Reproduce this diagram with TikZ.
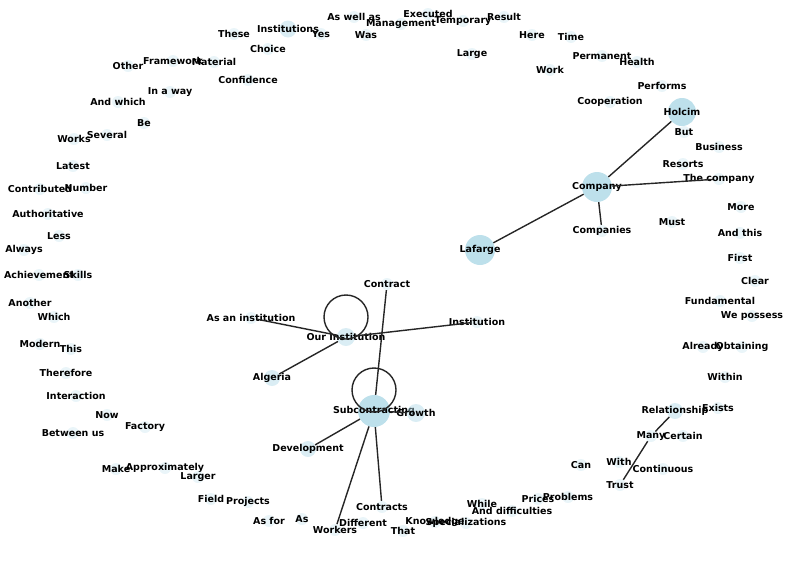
\documentclass[tikz,border=0pt]{standalone}
\usepackage{fontspec}
\setmainfont{DejaVu Sans}
\definecolor{nodeblue}{RGB}{173,216,230}
\begin{document}
\begin{tikzpicture}[x=1pt, y=-1pt,
    every label/.style={font=\bfseries\fontsize{9.5}{11}\selectfont, inner sep=0pt, text=black},
    link/.style={line width=1.4pt, black!85}]
\useasboundingbox (0,0) rectangle (787,560);
            {
                \tikzset{big/.style = {shape=circle, inner sep=0pt, minimum size=30pt, fill=nodeblue, fill opacity=0.8}}
                \tikzset{mid/.style = {shape=circle, inner sep=0pt, minimum size=17pt, fill=nodeblue, fill opacity=0.45}}
                \tikzset{word/.style = {shape=circle, inner sep=0pt, minimum size=12pt, fill=nodeblue, fill opacity=0.25}}

                % top arc
                \node[word, label=center:These] (these) at (234, 34) {};
                \node[mid, label=center:Institutions] (institutions) at (288, 29) {};
                \node[word, label=center:Yes] (yes) at (321, 34) {};
                \node[word, label=center:As well as] (aswellas) at (354, 17) {};
                \node[word, label=center:Was] (was) at (366, 35) {};
                \node[word, label=center:Management] (management) at (401, 24) {};
                \node[word, label=center:Executed] (executed) at (428, 14) {};
                \node[word, label=center:Temporary] (temporary) at (463, 21) {};
                \node[word, label=center:Result] (result) at (504, 17) {};
                \node[word, label=center:Here] (here) at (532, 35) {};
                \node[word, label=center:Time] (time) at (571, 37) {};
                \node[word, label=center:Large] (large) at (472, 54) {};
                \node[word, label=center:Permanent] (permanent) at (602, 56) {};
                \node[word, label=center:Health] (health) at (637, 62) {};
                \node[word, label=center:Work] (work) at (550, 70) {};
                \node[word, label=center:Performs] (performs) at (662, 86) {};
                \node[word, label=center:Cooperation] (cooperation) at (610, 102) {};
                \node[big, minimum size=28pt, label=center:Holcim] (holcim) at (682, 112) {};
                \node[word, label=center:But] (but) at (684, 132) {};
                \node[word, label=center:Choice] (choice) at (268, 49) {};
                \node[word, label=center:Other] (other) at (128, 66) {};
                \node[word, label=center:Framework] (framework) at (173, 61) {};
                \node[word, label=center:Material] (material) at (214, 62) {};
                \node[word, label=center:Confidence] (confidence) at (248, 80) {};
                \node[word, label=center:In a way] (inaway) at (170, 92) {};
                \node[word, label=center:And which] (andwhich) at (118, 102) {};
                \node[word, label=center:Be] (be) at (144, 123) {};

                % left arc
                \node[word, label=center:Works] (works) at (74, 139) {};
                \node[word, label=center:Several] (several) at (107, 135) {};
                \node[word, label=center:Latest] (latest) at (73, 166) {};
                \node[word, label=center:Contributed] (contributed) at (40, 189) {};
                \node[word, label=center:Number] (number) at (86, 188) {};
                \node[word, label=center:Authoritative] (authoritative) at (48, 214) {};
                \node[word, label=center:Less] (less) at (59, 236) {};
                \node[word, label=center:Always] (always) at (24, 250) {};
                \node[word, label=center:Achievement] (achievement) at (39, 275) {};
                \node[word, label=center:Skills] (skills) at (78, 275) {};
                \node[word, label=center:Another] (another) at (30, 303) {};
                \node[word, label=center:Which] (which) at (54, 317) {};
                \node[word, label=center:Modern] (modern) at (40, 344) {};
                \node[word, label=center:This] (this) at (71, 349) {};
                \node[word, label=center:Therefore] (therefore) at (66, 373) {};
                \node[word, label=center:Interaction] (interaction) at (76, 396) {};
                \node[word, label=center:Now] (now) at (107, 415) {};
                \node[word, label=center:Factory] (factory) at (145, 427) {};
                \node[word, label=center:Between us] (betweenus) at (73, 433) {};

                % bottom arc
                \node[word, label=center:Make] (make) at (116, 469) {};
                \node[word, label=center:Approximately] (approx) at (165, 468) {};
                \node[word, label=center:Larger] (larger) at (198, 477) {};
                \node[word, label=center:Field] (field) at (211, 499) {};
                \node[word, label=center:Projects] (projects) at (248, 502) {};
                \node[word, label=center:As for] (asfor) at (269, 521) {};
                \node[word, label=center:As] (as) at (302, 519) {};
                \node[word, label=center:Workers] (workers) at (335, 530) {};
                \node[word, label=center:Different] (different) at (363, 523) {};
                \node[word, label=center:Contracts] (contracts) at (382, 507) {};
                \node[word, label=center:That] (that) at (403, 531) {};
                \node[word, label=center:Knowledge] (knowledge) at (435, 522) {};
                \node[word, label=center:Specializations] (special) at (466, 523) {};
                \node[word, label=center:While] (while) at (482, 504) {};
                \node[word, label=center:And difficulties] (anddiff) at (512, 511) {};
                \node[word, label=center:Prices] (prices) at (538, 499) {};
                \node[word, label=center:Problems] (problems) at (568, 497) {};
                \node[word, label=center:Can] (can) at (581, 465) {};
                \node[word, label=center:With] (with) at (619, 462) {};
                \node[word, label=center:Continuous] (continuous) at (663, 469) {};
                \node[word, label=center:Trust] (trust) at (620, 485) {};
                \node[word, label=center:Many] (many) at (651, 436) {};
                \node[word, label=center:Certain] (certain) at (683, 436) {};
                \node[mid, minimum size=16pt, label=center:Relationship] (relationship) at (675, 411) {};
                \node[word, label=center:Exists] (exists) at (718, 408) {};

                % right arc
                \node[word, label=center:Within] (within) at (725, 377) {};
                \node[word, label=center:Already] (already) at (703, 347) {};
                \node[word, label=center:Obtaining] (obtaining) at (742, 347) {};
                \node[word, label=center:We possess] (wepossess) at (752, 316) {};
                \node[word, label=center:Fundamental] (fundamental) at (720, 301) {};
                \node[word, label=center:Clear] (clear) at (755, 281) {};
                \node[word, label=center:First] (first) at (740, 258) {};
                \node[word, label=center:And this] (andthis) at (740, 233) {};
                \node[word, label=center:More] (more) at (741, 207) {};
                \node[word, label=center:Must] (must) at (672, 222) {};
                \node[word, label=center:The company] (thecompany) at (719, 179) {};
                \node[word, label=center:Resorts] (resorts) at (683, 164) {};
                \node[word, label=center:Business] (business) at (719, 147) {};

                % centre
                \node[big, label=center:Company] (company) at (597, 187) {};
                \node[word, label=center:Companies] (companies) at (602, 231) {};
                \node[big, label=center:Lafarge] (lafarge) at (480, 250) {};
                \node[word, label=center:Contract] (contract) at (387, 284) {};
                \node[mid, minimum size=18pt, label=center:Our Institution] (ourinst) at (346, 337) {};
                \node[word, label=center:As an institution] (asaninst) at (251, 318) {};
                \node[word, label=center:Institution] (institution) at (477, 322) {};
                \node[mid, minimum size=16pt, label=center:Algeria] (algeria) at (272, 378) {};
                \node[big, minimum size=32pt, label=center:Subcontracting] (subcon) at (374, 411) {};
                \node[mid, minimum size=18pt, label=center:Growth] (growth) at (416, 413) {};
                \node[mid, minimum size=16pt, label=center:Development] (development) at (308, 449) {};
            }

            \draw[link] (company) edge (holcim);
            \draw[link] (company) edge (thecompany);
            \draw[link] (company) edge (companies);
            \draw[link] (company) edge (lafarge);
            \draw[link] (ourinst) edge (asaninst);
            \draw[link] (ourinst) edge (institution);
            \draw[link] (ourinst) edge (algeria);
            \draw[link] (contract) edge (subcon);
            \draw[link] (subcon) edge (growth);
            \draw[link] (subcon) edge (development);
            \draw[link] (subcon) edge (workers);
            \draw[link] (subcon) edge (contracts);
            \draw[link] (relationship) edge (many);
            \draw[link] (many) edge (trust);

            % self loops
            \draw[link] ([yshift=20pt]ourinst.center) circle (22pt);
            \draw[link] ([yshift=21pt]subcon.center) circle (22pt);

        \end{tikzpicture}
\end{document}
